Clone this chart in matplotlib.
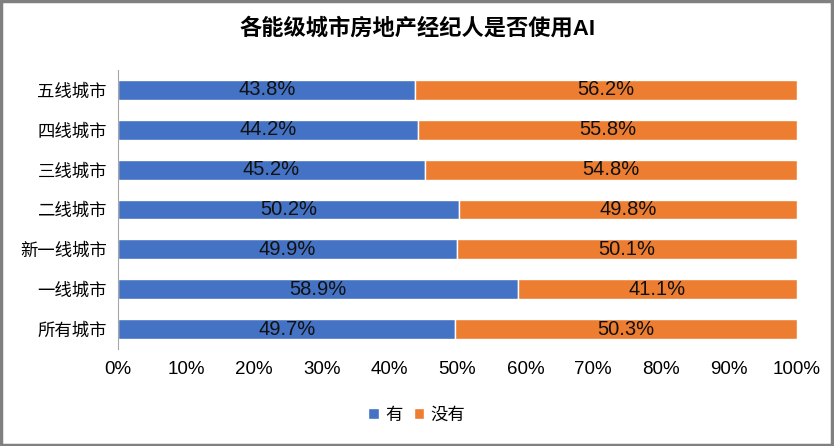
import numpy as np
import matplotlib.pyplot as plt
from matplotlib.patches import Rectangle
from matplotlib.ticker import PercentFormatter

plt.rcParams['font.family'] = ['Liberation Sans', 'Noto Sans CJK SC', 'DejaVu Sans']

cities = ["所有城市", "一线城市", "新一线城市", "二线城市", "三线城市", "四线城市", "五线城市"]
yes_pct = [49.7, 58.9, 49.9, 50.2, 45.2, 44.2, 43.8]
no_pct = [50.3, 41.1, 50.1, 49.8, 54.8, 55.8, 56.2]

BLUE = "#4472C4"
ORANGE = "#ED7D31"

fig = plt.figure(figsize=(8.34, 4.46), dpi=100)
ax = fig.add_axes([0.1415, 0.2175, 0.8141, 0.6255])

y = np.arange(len(cities))
bars_yes = ax.barh(y, yes_pct, height=0.5, color=BLUE, edgecolor="white", linewidth=1, label="有")
bars_no = ax.barh(y, no_pct, left=yes_pct, height=0.5, color=ORANGE, edgecolor="white", linewidth=1, label="没有")

for bars in (bars_yes, bars_no):
    ax.bar_label(bars, labels=[f"{b.get_width():.1f}%" for b in bars], label_type="center",
                 fontsize=14.5, color="#111111")

ax.set_xlim(0, 100)
ax.set_ylim(-0.5, len(cities) - 0.5)
ax.set_yticks(y)
ax.set_yticklabels(cities, fontsize=12.5)
ax.set_xticks(np.arange(0, 101, 10))
ax.xaxis.set_major_formatter(PercentFormatter(decimals=0))
ax.tick_params(axis="x", labelsize=13.5, length=0, pad=9)
ax.tick_params(axis="y", length=0, pad=8)
for side in ("top", "right", "bottom"):
    ax.spines[side].set_visible(False)
ax.spines["left"].set_color("#A6A6A6")

fig.text(0.5, 0.935, "各能级城市房地产经纪人是否使用AI", ha="center", va="center",
         fontsize=16, fontweight="bold")

ax.legend(loc="center", bbox_to_anchor=(0.5, 0.07), bbox_transform=fig.transFigure, ncol=2,
          frameon=False, fontsize=12.5, handlelength=0.6, handleheight=0.6, handletextpad=0.4,
          columnspacing=0.6)

fig.patches.append(Rectangle((0.001, 0.002), 0.997, 0.995, transform=fig.transFigure,
                             fill=False, edgecolor="#808080", linewidth=2.5))

fig.savefig("out.png", dpi=100)
